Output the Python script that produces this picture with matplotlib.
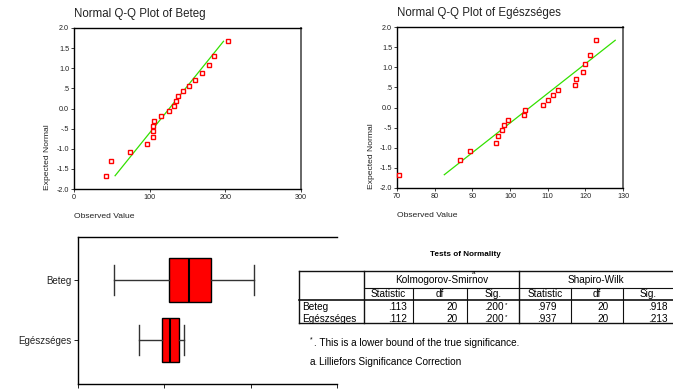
import matplotlib.pyplot as plt
import numpy as np

plt.rcParams["font.family"] = ["Liberation Sans", "DejaVu Sans"]

# expected normal scores (same for both groups, n = 20)
expected_normal = [-1.67, -1.31, -1.07, -0.88, -0.71, -0.57, -0.43, -0.30, -0.18, -0.06,
                   0.06, 0.18, 0.30, 0.43, 0.57, 0.71, 0.88, 1.07, 1.31, 1.67]
beteg = [42, 49, 74, 96, 105, 105, 105, 106, 115, 125,
         132, 135, 138, 144, 152, 160, 169, 178, 185, 204]
egeszseges = [70.4, 86.8, 89.5, 96.4, 96.7, 97.8, 98.3, 99.6, 103.7, 104.1,
              108.8, 110.1, 111.5, 112.8, 117.3, 117.6, 119.5, 119.9, 121.2, 122.9]
groups = ["Beteg", "Egészséges"]

qq_yticks = [2.0, 1.5, 1.0, 0.5, 0.0, -0.5, -1.0, -1.5, -2.0]
qq_yticklabels = ["2.0", "1.5", "1.0", ".5", "0.0", "-.5", "-1.0", "-1.5", "-2.0"]

# Tests of Normality table
col_heads = ["Statistic", "df", "Sig.", "Statistic", "df", "Sig."]
table_rows = [
    [".113", "20", ".200*", ".979", "20", ".918"],
    [".112", "20", ".200*", ".937", "20", ".213"],
]

W, H = 673, 389
fig = plt.figure(figsize=(W / 100, H / 100), dpi=100)


def px_axes(left, top, right, bottom):
    return fig.add_axes([left / W, 1 - bottom / H, (right - left) / W, (bottom - top) / H])


def qq_plot(ax, obs, title, xlim, xticks):
    obs = np.asarray(obs, dtype=float)
    z = np.asarray(expected_normal)
    m, s = obs.mean(), obs.std(ddof=1)
    zz = np.array([z.min(), z.max()])
    ax.plot(m + s * zz, zz, color="#33e000", lw=0.9, zorder=2)
    ax.plot(obs, z, "s", ms=3.5, mfc="white", mec="red", mew=1.0, clip_on=False, zorder=3)
    ax.set_xlim(xlim)
    ax.set_ylim(-2, 2)
    ax.set_xticks(xticks)
    ax.set_yticks(qq_yticks)
    ax.set_yticklabels(qq_yticklabels)
    ax.tick_params(labelsize=5.2, length=2, width=0.6, pad=1.5, colors="#222222")
    for sp in ax.spines.values():
        sp.set_linewidth(1.0)
    ax.spines["right"].set_color("#666666")
    ax.spines["right"].set_linewidth(1.4)
    ax.text(0, 1.085, title, transform=ax.transAxes, fontsize=8.3, va="center", ha="left",
            color="#222222")
    ax.text(-0.115, 0.2, "Expected Normal", transform=ax.transAxes, rotation=90,
            fontsize=6.1, ha="center", va="center", color="#222222")
    ax.text(0, -0.17, "Observed Value", transform=ax.transAxes, fontsize=6.1,
            ha="left", va="center", color="#222222")


ax1 = px_axes(74, 28, 301, 189)
qq_plot(ax1, beteg, "Normal Q-Q Plot of Beteg", (0, 300), [0, 100, 200, 300])
ax2 = px_axes(397, 27, 623, 188)
qq_plot(ax2, egeszseges, "Normal Q-Q Plot of Egészséges", (70, 130),
        [70, 80, 90, 100, 110, 120, 130])

# boxplot
ax3 = px_axes(78, 237, 337, 384)
ax3.boxplot([beteg, egeszseges], positions=[1, 2], orientation="horizontal",
            widths=0.73, capwidths=0.5, patch_artist=True, showfliers=False,
            boxprops=dict(facecolor="red", edgecolor="black", lw=1.0),
            medianprops=dict(color="black", lw=1.5),
            whiskerprops=dict(color="#333333", lw=1.0),
            capprops=dict(color="#333333", lw=1.0))
ax3.set_ylim(2.73, 0.28)
ax3.set_xlim(0, 300)
ax3.set_xticks([0, 100, 200, 300])
ax3.set_yticks([1, 2])
ax3.set_yticklabels(groups)
ax3.tick_params(labelsize=7, length=3, width=0.7, pad=1.5, colors="#222222")
ax3.tick_params(axis="x", labelsize=5)
ax3.spines["right"].set_visible(False)
for sp in ["left", "top", "bottom"]:
    ax3.spines[sp].set_linewidth(1.0)

# table drawn in pixel coordinates
tab = fig.add_axes([0, 0, 1, 1])
tab.set_xlim(0, W)
tab.set_ylim(H, 0)
tab.axis("off")
tab.patch.set_alpha(0)

xs = [299, 364, 413, 467, 519, 571, 623, 673]
y_top, y_h2, y_data, y_bot = 271, 288, 300, 323
lc = "#111111"
tab.text(465, 255, "Tests of Normality", fontsize=5.9, weight="bold", ha="center", va="center")
tab.plot([xs[0], W], [y_top, y_top], color=lc, lw=1.0)
tab.plot([xs[1], W], [y_h2, y_h2], color=lc, lw=0.8)
tab.plot([xs[0], W], [y_data, y_data], color=lc, lw=1.2)
tab.plot([xs[0], W], [y_bot, y_bot], color=lc, lw=1.0)
for i, x in enumerate(xs[:-1]):
    y0 = y_top if i in (0, 1, 4) else y_h2
    tab.plot([x, x], [y0, y_bot], color=lc, lw=1.0 if i in (0, 1, 4) else 0.8)

fs = 7.2
tab.text((xs[1] + xs[4]) / 2, 280, "Kolmogorov-Smirnov", fontsize=fs, ha="center", va="center")
tab.text(474, 273, "a", fontsize=4.5, ha="center", va="center")
tab.text((xs[4] + xs[7]) / 2, 280, "Shapiro-Wilk", fontsize=fs, ha="center", va="center")
for j, head in enumerate(col_heads):
    tab.text((xs[j + 1] + xs[j + 2]) / 2, 294, head, fontsize=fs, ha="center", va="center")

right_edges = [407, 458, 507, 557, 609, 668]
row_y = [306.5, 318.5]
for r, row in enumerate(table_rows):
    tab.text(302, row_y[r], groups[r], fontsize=fs, ha="left", va="center")
    for j, val in enumerate(row):
        if val.endswith("*"):
            tab.text(right_edges[j] - 3, row_y[r], val[:-1], fontsize=fs, ha="right", va="center")
            tab.text(right_edges[j], row_y[r] - 2, "*", fontsize=4.5, ha="right", va="center")
        else:
            tab.text(right_edges[j], row_y[r], val, fontsize=fs, ha="right", va="center")

tab.text(310, 340, "*", fontsize=5, ha="left", va="center")
tab.text(314, 343, ". This is a lower bound of the true significance.", fontsize=fs,
         ha="left", va="center")
tab.text(310, 362, "a.", fontsize=fs, ha="left", va="center")
tab.text(319, 362, "Lilliefors Significance Correction", fontsize=fs, ha="left", va="center")

fig.savefig("out.png", dpi=100)
